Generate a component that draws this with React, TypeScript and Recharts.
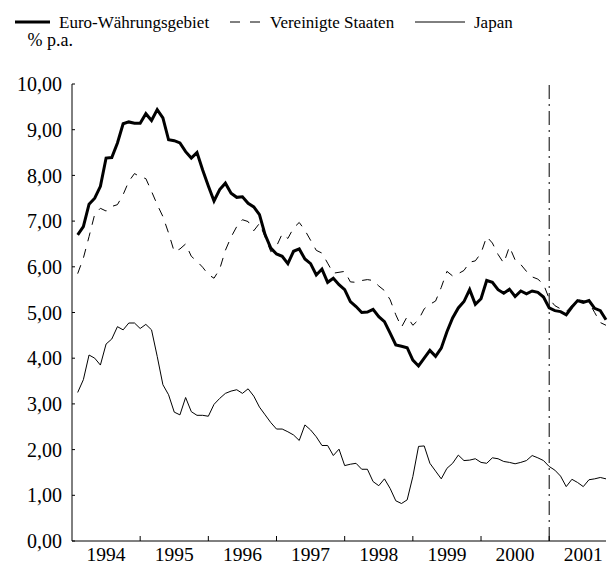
import { LineChart, Line, XAxis, YAxis, ReferenceLine, Legend } from "recharts";

// monthly averages, Jan 1994 .. Oct 2001 (month index 1 = Jan 1994)
const years = ["1994", "1995", "1996", "1997", "1998", "1999", "2000", "2001"];

const euro = [
  6.70, 6.88, 7.37, 7.50, 7.76, 8.38, 8.39, 8.71, 9.13, 9.17, 9.14, 9.14,
  9.35, 9.20, 9.44, 9.26, 8.78, 8.76, 8.71, 8.52, 8.38, 8.50, 8.12, 7.77,
  7.44, 7.69, 7.83, 7.61, 7.52, 7.53, 7.39, 7.31, 7.14, 6.70, 6.41, 6.28,
  6.23, 6.07, 6.34, 6.39, 6.17, 6.07, 5.82, 5.95, 5.66, 5.75, 5.61, 5.50,
  5.24, 5.13, 5.00, 5.01, 5.07, 4.91, 4.80, 4.55, 4.29, 4.26, 4.23, 3.96,
  3.83, 4.00, 4.17, 4.04, 4.22, 4.58, 4.88, 5.10, 5.24, 5.50, 5.18, 5.30,
  5.70, 5.66, 5.50, 5.42, 5.51, 5.35, 5.47, 5.41, 5.47, 5.44, 5.34, 5.10,
  5.04, 5.02, 4.95, 5.12, 5.26, 5.22, 5.26, 5.09, 5.04, 4.84,
];

const usa = [
  5.85, 6.19, 6.66, 7.15, 7.28, 7.22, 7.32, 7.36, 7.58, 7.87, 8.04, 7.97,
  7.93, 7.65, 7.36, 7.10, 6.74, 6.33, 6.39, 6.50, 6.23, 6.12, 5.99, 5.83,
  5.75, 5.95, 6.36, 6.65, 6.88, 7.03, 6.99, 6.79, 6.95, 6.65, 6.33, 6.45,
  6.72, 6.62, 6.85, 6.97, 6.80, 6.58, 6.36, 6.30, 6.08, 5.86, 5.88, 5.90,
  5.67, 5.66, 5.70, 5.72, 5.70, 5.58, 5.48, 5.28, 4.95, 4.68, 4.91, 4.72,
  4.84, 5.08, 5.18, 5.25, 5.55, 5.90, 5.80, 5.85, 5.92, 6.10, 6.13, 6.30,
  6.66, 6.52, 6.27, 6.08, 6.44, 6.15, 6.05, 5.90, 5.78, 5.73, 5.62, 5.30,
  5.15, 5.08, 5.02, 5.15, 5.28, 5.26, 5.22, 5.00, 4.78, 4.72,
];

const japan = [
  3.25, 3.53, 4.07, 4.00, 3.85, 4.31, 4.42, 4.69, 4.62, 4.77, 4.77, 4.65,
  4.74, 4.62, 4.04, 3.42, 3.20, 2.82, 2.76, 3.14, 2.83, 2.75, 2.75, 2.73,
  2.99, 3.12, 3.23, 3.28, 3.31, 3.23, 3.33, 3.17, 2.93, 2.76, 2.59, 2.45,
  2.45, 2.39, 2.32, 2.20, 2.54, 2.43, 2.28, 2.09, 2.09, 1.87, 2.01, 1.65,
  1.68, 1.70, 1.57, 1.57, 1.30, 1.21, 1.36, 1.15, 0.88, 0.82, 0.90, 1.41,
  2.07, 2.08, 1.70, 1.53, 1.36, 1.59, 1.70, 1.88, 1.76, 1.77, 1.80, 1.72,
  1.70, 1.82, 1.80, 1.74, 1.72, 1.69, 1.72, 1.76, 1.87, 1.82, 1.76, 1.63,
  1.55, 1.42, 1.19, 1.35, 1.28, 1.19, 1.34, 1.36, 1.39, 1.36,
];

const yTicks = [0, 1, 2, 3, 4, 5, 6, 7, 8, 9, 10];

const FONT = "Liberation Serif, Times New Roman, serif";

const data = euro.map((v, i) => ({ m: i + 1, euro: v, usa: usa[i], japan: japan[i] }));

// boundaries get a small inward tick, mid-year positions get the year label
const xTicks = years.flatMap((_, i) => (i === 0 ? [6] : [i * 12, i * 12 + 6]));

function YearTick(props: any) {
  const { x, y, payload } = props;
  if (payload.value % 12 === 0) {
    return <line x1={x} x2={x} y1={y} y2={y - 5} stroke="#000" />;
  }
  return (
    <text x={x} y={y + 20} textAnchor="middle" fontSize={19.5} fontFamily={FONT} fill="#000">
      {years[(payload.value - 6) / 12]}
    </text>
  );
}

const legendText = { fontFamily: FONT, fontSize: 17, fill: "#000" };

function renderLegend() {
  return (
    <svg width={611} height={50} style={{ position: "absolute", left: 0, top: 0, overflow: "visible" }}>
      <line x1={15} x2={50} y1={22} y2={22} stroke="#000" strokeWidth={3} />
      <text x={59} y={28} style={legendText}>Euro-Währungsgebiet</text>
      <line x1={230} x2={262} y1={22} y2={22} stroke="#000" strokeDasharray="10 10" />
      <text x={270} y={28} style={legendText}>Vereinigte Staaten</text>
      <line x1={415} x2={465} y1={22} y2={22} stroke="#000" />
      <text x={474} y={28} style={legendText}>Japan</text>
      <text x={73} y={46} textAnchor="end" style={{ ...legendText, fontSize: 18 }}>% p.a.</text>
    </svg>
  );
}

export default function App() {
  return (
    <div style={{ position: "absolute", left: 0, top: 0, background: "#fff", fontFamily: FONT }}>
      <LineChart width={611} height={565} data={data} margin={{ top: 84, right: 5, bottom: 0, left: 0 }}>
        <Legend
          verticalAlign="top"
          content={renderLegend}
          wrapperStyle={{ left: 0, top: 0, width: 611, height: 0 }}
        />
        <XAxis
          type="number"
          dataKey="m"
          domain={[0, 94]}
          ticks={xTicks}
          interval={0}
          tick={<YearTick />}
          tickLine={false}
          tickSize={0}
          tickMargin={0}
          height={24}
          axisLine={{ stroke: "#000" }}
        />
        <YAxis
          domain={[0, 10]}
          ticks={yTicks}
          interval={0}
          width={72}
          tickFormatter={(v: number) => v.toFixed(2).replace(".", ",")}
          tick={{ fontSize: 20, fontFamily: FONT, fill: "#000" }}
          tickSize={-3}
          tickMargin={13}
          tickLine={{ stroke: "#000" }}
          axisLine={{ stroke: "#000" }}
        />
        <ReferenceLine x={84} stroke="#000" strokeDasharray="14 5 2 5" />
        <Line dataKey="japan" stroke="#000" strokeWidth={1} dot={false} isAnimationActive={false} />
        <Line dataKey="usa" stroke="#000" strokeWidth={1} strokeDasharray="9 8" dot={false} isAnimationActive={false} />
        <Line dataKey="euro" stroke="#000" strokeWidth={3} dot={false} isAnimationActive={false} />
      </LineChart>
    </div>
  );
}
